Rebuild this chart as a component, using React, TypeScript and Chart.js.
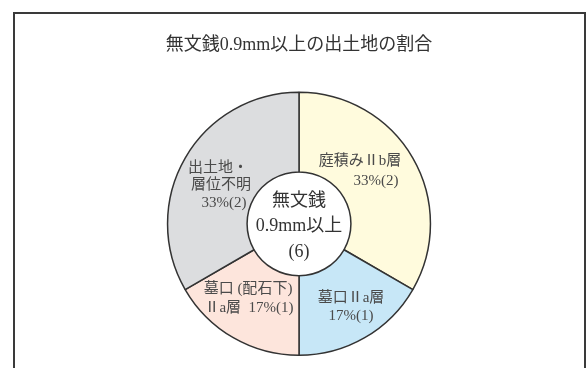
import React, { useEffect, useRef } from "react";
import { Chart, registerables } from "chart.js";

Chart.register(...registerables);

const titleText = "無文銭0.9mm以上の出土地の割合";
const categories = ["庭積みⅡb層", "墓口Ⅱa層", "墓口(配石下)Ⅱa層", "出土地・層位不明"];
const counts = [2, 1, 1, 2];
const colors = ["#FFFBDD", "#C7E7F7", "#FDE5DC", "#DCDDDF"];
const centerLines = ["無文銭", "0.9mm以上", "(6)"];

const pct = (i: number) => {
  const total = counts.reduce((a, b) => a + b, 0);
  return Math.round((counts[i] / total) * 100) + "%(" + counts[i] + ")";
};

// label lines per slice, with pixel offsets from the doughnut centre
const sliceLabelLines: string[][] = [
  ["庭積みⅡb層", pct(0)],
  ["墓口Ⅱa層", pct(1)],
  ["墓口 (配石下)", "Ⅱa層  " + pct(2)],
  ["出土地・", "層位不明", pct(3)],
];
const sliceLabelOffsets: [number, number][][] = [
  [[61, -63], [77, -43]],
  [[52, 74], [52, 92]],
  [[-51, 65], [-50, 84]],
  [[-81, -56], [-78, -39], [-75, -21]],
];
const centerOffsets = [-23, 2, 28];

const FONT = '"Liberation Serif", "Noto Sans CJK JP", serif';

const framePlugin = {
  id: "frame",
  beforeDraw(chart: any) {
    const ctx = chart.ctx;
    ctx.save();
    ctx.strokeStyle = "#3a3a3a";
    ctx.lineWidth = 2;
    ctx.strokeRect(14, 13, 571, 420);
    ctx.restore();
  },
};

const labelPlugin = {
  id: "sliceLabels",
  afterDatasetsDraw(chart: any) {
    const ctx = chart.ctx;
    const meta = chart.getDatasetMeta(0);
    if (!meta.data.length) return;
    const cx = meta.data[0].x;
    const cy = meta.data[0].y;
    ctx.save();
    ctx.textAlign = "center";
    ctx.textBaseline = "middle";
    ctx.fillStyle = "#4a4a4a";
    ctx.font = "15px " + FONT;
    sliceLabelLines.forEach((lines, i) => {
      lines.forEach((t, j) => {
        const [dx, dy] = sliceLabelOffsets[i][j];
        ctx.fillText(t, cx + dx, cy + dy);
      });
    });
    ctx.fillStyle = "#333";
    ctx.font = "18px " + FONT;
    centerLines.forEach((t, j) => {
      ctx.fillText(t, cx, cy + centerOffsets[j]);
    });
    ctx.restore();
  },
};

export default function App() {
  const ref = useRef<HTMLCanvasElement>(null);
  useEffect(() => {
    document.body.style.margin = "0";
    const chart = new Chart(ref.current!, {
      type: "doughnut",
      data: {
        labels: categories,
        datasets: [
          {
            data: counts,
            backgroundColor: colors,
            borderColor: "#333",
            borderWidth: 1.5,
          },
        ],
      },
      options: {
        animation: false,
        responsive: false,
        cutout: "39.5%",
        layout: { padding: { left: 11, right: 0, top: 0, bottom: 12 } },
        plugins: {
          legend: { display: false },
          tooltip: { enabled: false },
          title: {
            display: true,
            text: titleText,
            color: "#333",
            font: { family: FONT, size: 18, weight: "normal" },
            padding: { top: 34, bottom: 36 },
          },
        },
      },
      plugins: [framePlugin, labelPlugin],
    });
    return () => chart.destroy();
  }, []);
  return (
    <div style={{ width: 587, height: 368, background: "#fff" }}>
      <canvas ref={ref} width={587} height={368} />
    </div>
  );
}
